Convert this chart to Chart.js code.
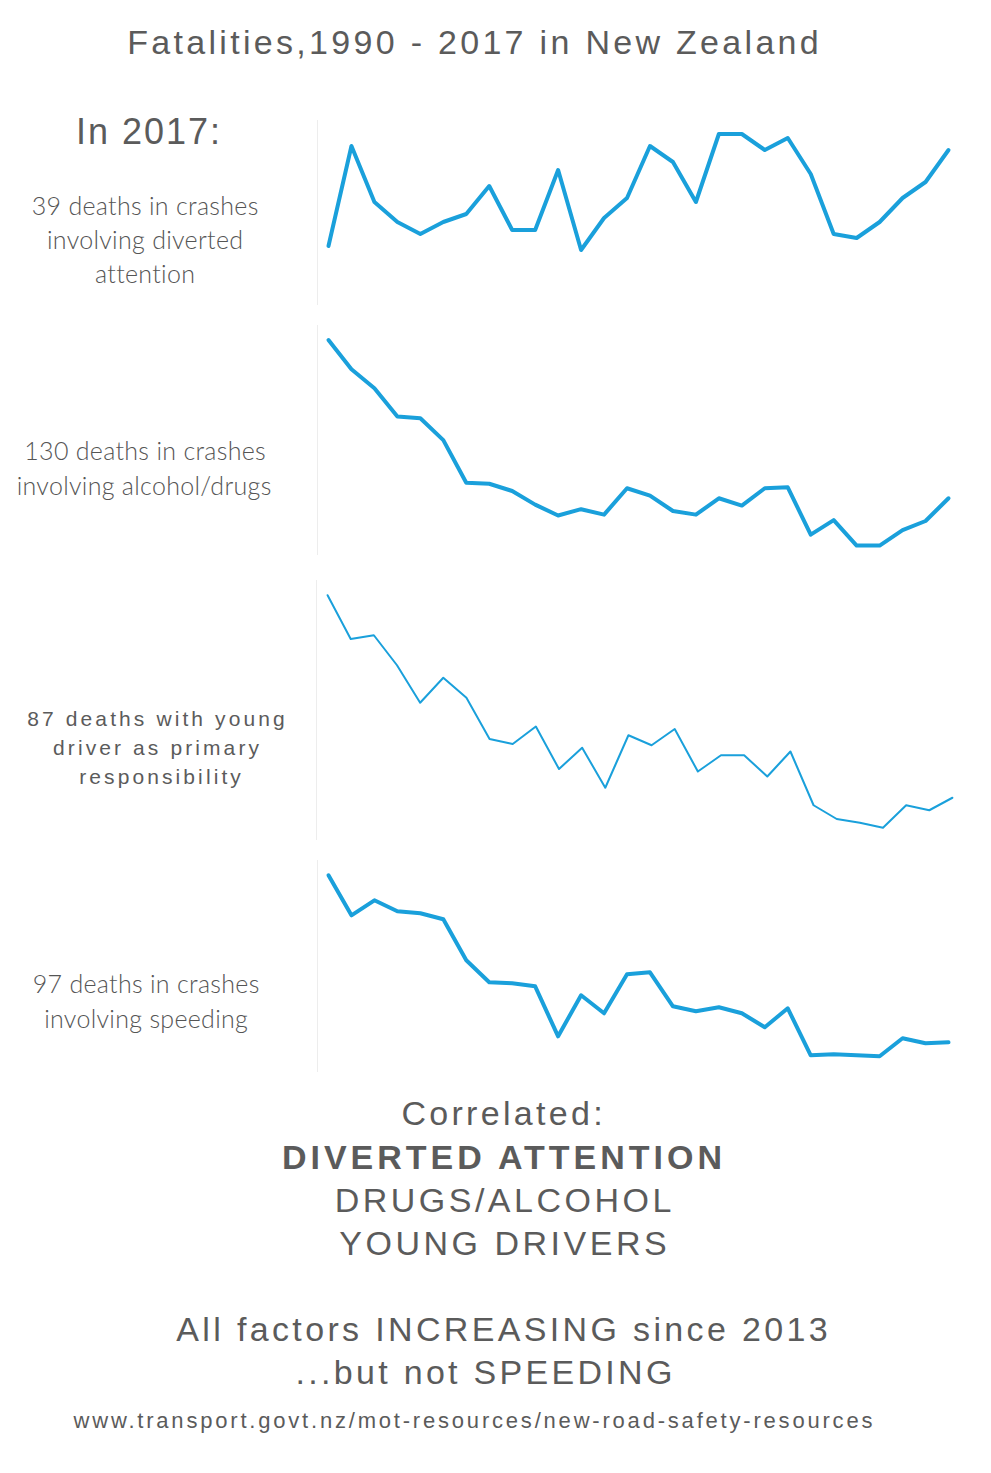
<!DOCTYPE html>
<html>
<head>
<meta charset="utf-8">
<script src="https://cdn.jsdelivr.net/npm/chart.js@4.4.0/dist/chart.umd.min.js"></script>
<style>
  html, body { margin: 0; padding: 0; background: #ffffff; }
  body { width: 991px; height: 1473px; position: relative; overflow: hidden; }
  .t { position: absolute; text-align: center; color: #5b5b5b; white-space: nowrap; }
  .arial { font-family: "Liberation Sans", Arial, sans-serif; }
  .lato { font-family: Lato, "Noto Sans", sans-serif; color: #555; font-weight: 300; }
  canvas { position: absolute; }
</style>
</head>
<body>
<script>
// ---------- data ----------
const years = ['1990','1991','1992','1993','1994','1995','1996','1997','1998','1999',
               '2000','2001','2002','2003','2004','2005','2006','2007','2008','2009',
               '2010','2011','2012','2013','2014','2015','2016','2017'];
const divertedAttention = [15, 40, 26, 21, 18, 21, 23, 30, 19, 19, 34, 14, 22, 27, 40, 36, 26, 43, 43, 39, 42, 33, 18, 17, 21, 27, 31, 39];
const alcoholDrugs      = [304, 272, 251, 220, 218, 194, 147, 146, 138, 123, 111, 118, 112, 141, 133, 116, 112, 130, 122, 141, 142, 90, 106, 78, 78, 95, 105, 130];
const youngDrivers      = [249, 214, 217, 193, 163, 183, 167, 134, 130, 144, 110, 127, 95, 137, 129, 142, 108, 121, 121, 104, 124, 81, 70, 67, 63, 81, 77, 87];
const speeding          = [264, 224, 239, 228, 226, 220, 179, 157, 156, 153, 103, 144, 126, 165, 167, 133, 128, 132, 126, 112, 131, 84, 85, 84, 83, 101, 96, 97];

// ---------- text ----------
const texts = [
  {cls:'arial', txt:'Fatalities,1990 - 2017 in New Zealand', cx:473, cy:42, size:34, ls:3.3},
  {cls:'arial', txt:'In 2017:', cx:148, cy:131, size:36, ls:2},
  {cls:'lato', txt:'39 deaths in crashes', cx:145, cy:205, size:25, ls:0.3},
  {cls:'lato', txt:'involving diverted', cx:145, cy:239, size:25, ls:0.3},
  {cls:'lato', txt:'attention', cx:145, cy:273, size:25, ls:0.3},
  {cls:'lato', txt:'130 deaths in crashes', cx:145, cy:450, size:25, ls:0.3},
  {cls:'lato', txt:'involving alcohol/drugs', cx:144, cy:485, size:25, ls:0.3},
  {cls:'arial', txt:'87 deaths with young', cx:156, cy:718, size:21, ls:3.1},
  {cls:'arial', txt:'driver as primary', cx:156, cy:747, size:21, ls:3.1},
  {cls:'arial', txt:'responsibility', cx:160, cy:776, size:21, ls:3.1},
  {cls:'lato', txt:'97 deaths in crashes', cx:146, cy:983, size:25, ls:0.3},
  {cls:'lato', txt:'involving speeding', cx:146, cy:1018, size:25, ls:0.3},
  {cls:'arial', txt:'Correlated:', cx:502, cy:1113, size:34, ls:3.3},
  {cls:'arial', txt:'DIVERTED ATTENTION', cx:502, cy:1157, size:34, ls:4.0, bold:true},
  {cls:'arial', txt:'DRUGS/ALCOHOL', cx:503, cy:1200, size:34, ls:3.5},
  {cls:'arial', txt:'YOUNG DRIVERS', cx:503, cy:1243, size:34, ls:3.5},
  {cls:'arial', txt:'All factors INCREASING since 2013', cx:502, cy:1329, size:34, ls:3.35},
  {cls:'arial', txt:'...but not SPEEDING', cx:484, cy:1372, size:34, ls:3.3},
  {cls:'arial', txt:'www.transport.govt.nz/mot-resources/new-road-safety-resources', cx:473, cy:1421, size:22, ls:2.8}
];
texts.forEach(t => {
  const d = document.createElement('div');
  d.className = 't ' + t.cls;
  d.textContent = t.txt;
  const lh = Math.round(t.size * 1.2);
  d.style.fontSize = t.size + 'px';
  d.style.lineHeight = lh + 'px';
  d.style.letterSpacing = t.ls + 'px';
  d.style.width = '900px';
  d.style.left = (t.cx - 450 + t.ls / 2) + 'px';
  d.style.top = (t.cy - lh / 2) + 'px';
  if (t.bold) d.style.fontWeight = 'bold';
  document.body.appendChild(d);
});

// ---------- charts ----------
const axisLine = {
  id: 'axisLine',
  beforeDatasetsDraw(chart) {
    const {ctx, chartArea} = chart;
    ctx.save();
    ctx.strokeStyle = '#ededed';
    ctx.lineWidth = 1;
    ctx.beginPath();
    ctx.moveTo(chartArea.left + 0.5, chartArea.top);
    ctx.lineTo(chartArea.left + 0.5, chartArea.bottom);
    ctx.stroke();
    ctx.restore();
  }
};

const panels = [
  {data: divertedAttention, left: 317, top: 120, w: 643, h: 185, min: 0.25, max: 46.5, bw: 4},
  {data: alcoholDrugs,      left: 317, top: 325, w: 643, h: 230, min: 67.6, max: 320.6, bw: 4},
  {data: youngDrivers,      left: 316, top: 580, w: 648, h: 260, min: 53.2, max: 261.2, bw: 2},
  {data: speeding,          left: 317, top: 860, w: 643, h: 212, min: 67.3, max: 279.3, bw: 4}
];

panels.forEach(p => {
  const c = document.createElement('canvas');
  c.width = p.w; c.height = p.h;
  c.style.left = p.left + 'px';
  c.style.top = p.top + 'px';
  c.style.width = p.w + 'px';
  c.style.height = p.h + 'px';
  document.body.appendChild(c);
  new Chart(c, {
    type: 'line',
    data: {
      labels: years,
      datasets: [{
        data: p.data,
        borderColor: '#1aa0db',
        borderWidth: p.bw,
        pointRadius: 0,
        tension: 0,
        fill: false,
        borderJoinStyle: 'round',
        borderCapStyle: 'round',
        clip: false
      }]
    },
    options: {
      responsive: false,
      animation: false,
      devicePixelRatio: 1,
      layout: {padding: 0},
      plugins: {legend: {display: false}, tooltip: {enabled: false}, title: {display: false}},
      scales: {
        x: {display: false, offset: true},
        y: {display: false, min: p.min, max: p.max}
      }
    },
    plugins: [axisLine]
  });
});
</script>
</body>
</html>
